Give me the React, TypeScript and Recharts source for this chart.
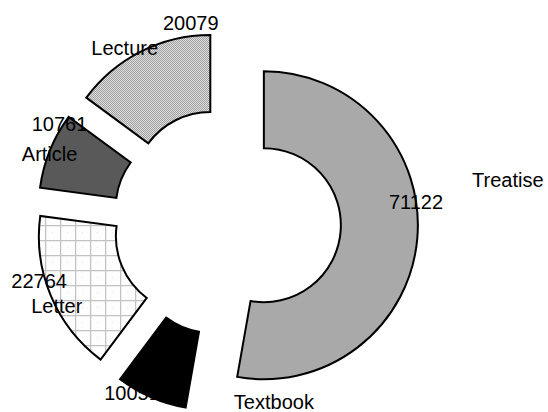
import React from 'react';
import { PieChart, Pie, Cell, Sector } from 'recharts';

const categories = ['Treatise', 'Textbook', 'Letter', 'Article', 'Lecture'];
const counts = [71122, 10051, 22764, 10761, 20079];

const fills = ['#a9a9a9', '#000000', 'url(#letterGrid)', '#595959', 'url(#lectureDots)'];

// label placement: degrees away from the slice mid angle, px beyond the outer radius
const nameShift = [13.5, 38, 3.6, 1, 3.6];
const nameGap = [130, 32, 36, 36, 48];
const valueShift = [11, -5.6, -5.3, -8.3, -16.5];
const valueGap = [36, 42, 43, 40, 48];

const data = categories.map((name, i) => ({ name, value: counts[i] }));

const RAD = Math.PI / 180;
const EXPLODE = 37;

const ExplodedSector = (props: any) => {
  const { cx, cy, midAngle } = props;
  const dx = EXPLODE * Math.cos(-midAngle * RAD);
  const dy = EXPLODE * Math.sin(-midAngle * RAD);
  return <Sector {...props} cx={cx + dx} cy={cy + dy} />;
};

const renderLabel = (props: any) => {
  const { cx, cy, midAngle, outerRadius, index } = props;
  const at = (shift: number, gap: number) => {
    const a = (midAngle + shift) * RAD;
    const r = outerRadius + gap;
    return { x: cx + r * Math.cos(a), y: cy - r * Math.sin(a) };
  };
  const n = at(nameShift[index], nameGap[index]);
  const v = at(valueShift[index], valueGap[index]);
  const txt = { fill: '#000', fontSize: 20, fontFamily: '"Liberation Sans", Arial, sans-serif', textAnchor: 'middle' as const, dominantBaseline: 'central' as const };
  return (
    <g>
      <text x={n.x} y={n.y} {...txt}>{categories[index]}</text>
      <text x={v.x} y={v.y} {...txt}>{counts[index]}</text>
    </g>
  );
};

export default function App() {
  return (
    <div style={{ position: 'absolute', left: 0, top: 0, width: 548, height: 412, background: '#fff' }}>
      <PieChart width={548} height={412} margin={{ top: 0, right: 0, bottom: 0, left: 0 }}>
        <defs>
          <pattern id="lectureDots" width="2" height="2" patternUnits="userSpaceOnUse">
            <rect width="2" height="2" fill="#e0e0e0" />
            <rect width="1" height="1" fill="#9e9e9e" />
            <rect x="1" y="1" width="1" height="1" fill="#9e9e9e" />
          </pattern>
          <pattern id="letterGrid" width="15" height="15" patternUnits="userSpaceOnUse">
            <rect width="15" height="15" fill="#fdfdfd" />
            <path d="M0 0 H15 M0 0 V15" stroke="#c2c2c2" strokeWidth="2.5" fill="none" />
            <rect x="7" y="7" width="1" height="1" fill="#ececec" />
          </pattern>
        </defs>
        <Pie
          data={data}
          dataKey="value"
          nameKey="name"
          cx={227}
          cy={222}
          innerRadius={77}
          outerRadius={154}
          startAngle={90}
          endAngle={-270}
          stroke="#000"
          strokeWidth={2}
          shape={ExplodedSector}
          label={renderLabel}
          labelLine={false}
          isAnimationActive={false}
        >
          {data.map((d, i) => (
            <Cell key={d.name} fill={fills[i]} />
          ))}
        </Pie>
      </PieChart>
    </div>
  );
}
